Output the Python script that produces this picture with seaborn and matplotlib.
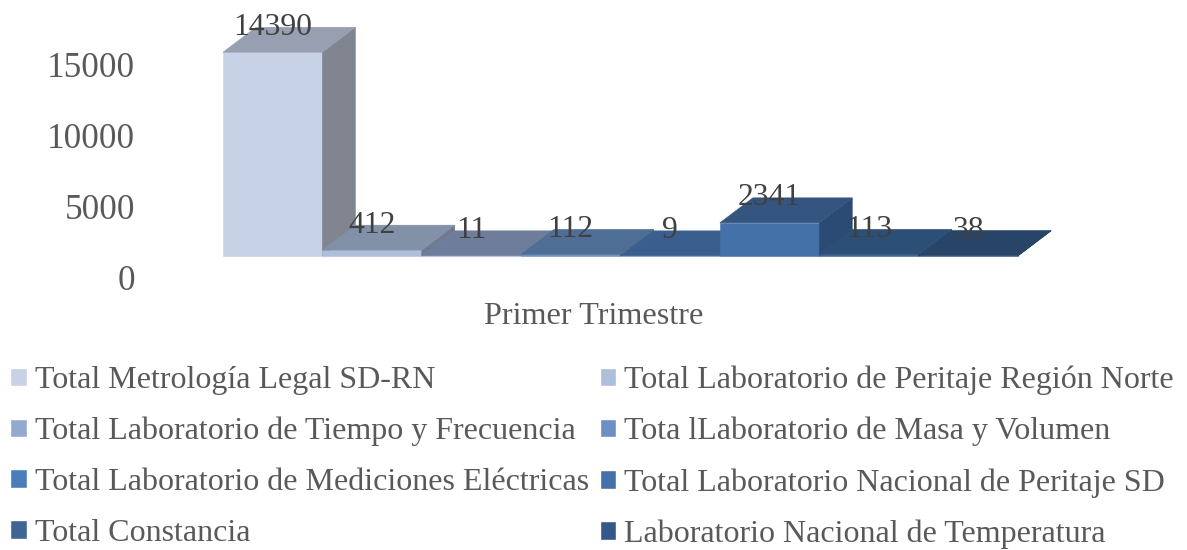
import matplotlib
matplotlib.use("Agg")
import matplotlib.pyplot as plt
from matplotlib.patches import Polygon
import pandas as pd
import seaborn as sns

# Data
series = ["Total Metrología Legal SD-RN", "Total Laboratorio de Peritaje Región Norte",
          "Total Laboratorio de Tiempo y Frecuencia", "Tota lLaboratorio de Masa y Volumen",
          "Total Laboratorio de Mediciones Eléctricas", "Total Laboratorio Nacional de Peritaje SD",
          "Total Constancia", "Laboratorio Nacional de Temperatura"]
values = [14390, 412, 11, 112, 9, 2341, 113, 38]
category = "Primer Trimestre"
y_ticks = [0, 5000, 10000, 15000]
front_colors = ["#C8D2E6", "#AEBFDC", "#94A9D0", "#6C90C4", "#4A7DBA", "#4472A8", "#3F6595", "#35578A"]
top_colors = ["#979FB0", "#8290A8", "#6E7D9B", "#4E6E96", "#3A5F8E", "#34557F", "#2C4F78", "#284568"]
side_colors = ["#80858F", "#6F7A8E", "#5D6A84", "#42607F", "#34527A", "#2C4B74", "#264468", "#223C5C"]

W, H = 1187, 550
px_per_unit = 70.8 / 5000
tick_px_per_unit = 71.3 / 5000
depth_px = (33, 25)
base_y = 256
bars_left, bars_right = 223, 1018

sns.set_style("white")
plt.rcParams['font.family'] = ['Liberation Serif', 'DejaVu Serif']

df = pd.DataFrame({"cat": [category] * len(values), "name": series, "value": values})

fig = plt.figure(figsize=(W / 100, H / 100), dpi=100)
ax_h = 15000 * px_per_unit
ax = fig.add_axes([bars_left / W, (H - base_y) / H, (bars_right - bars_left) / W, ax_h / H])
ax.patch.set_alpha(0)
sns.barplot(data=df, x="cat", y="value", hue="name", hue_order=series, palette=front_colors,
            width=1, gap=0, saturation=1, legend=True, ax=ax, errorbar=None)
ax.set_xlim(-0.5, 0.5)
ax.set_ylim(0, 15000)
handles, labels = ax.get_legend_handles_labels()
ax.get_legend().remove()

dx = depth_px[0] / (bars_right - bars_left)
dy = depth_px[1] / px_per_unit
for i, container in enumerate(ax.containers):
    bar = container[0]
    x0, x1, h = bar.get_x(), bar.get_x() + bar.get_width(), bar.get_height()
    bar.set_zorder(3 + i)
    bar.set_edgecolor(front_colors[i])
    bar.set_linewidth(0.4)
    side = Polygon([(x1, 0), (x1 + dx, dy), (x1 + dx, h + dy), (x1, h)], fc=side_colors[i], ec=side_colors[i],
                   lw=0.4, clip_on=False, zorder=3 + i)
    top = Polygon([(x0, h), (x1, h), (x1 + dx, h + dy), (x0 + dx, h + dy)], fc=top_colors[i], ec=top_colors[i],
                  lw=0.4, clip_on=False, zorder=3 + i)
    ax.add_patch(side)
    ax.add_patch(top)
    bar.set_clip_on(False)
    for t in ax.bar_label(container, padding=7.5, fontsize=22.8, color="#404040"):
        t.set_zorder(20)
        t.set_clip_on(False)
ax.axis("off")

# Axis labels sit lower and to the left of the bars, on the front of the floor
ax2 = fig.add_axes([145 / W, (H - 278) / H, (1043 - 145) / W, 15000 * tick_px_per_unit / H])
ax2.patch.set_alpha(0)
ax2.set_ylim(0, 15000)
ax2.set_xlim(-0.5, 0.5)
ax2.set_yticks(y_ticks)
ax2.set_xticks([0])
ax2.set_xticklabels([category])
ax2.tick_params(axis="y", length=0, pad=7, labelsize=25.4, labelcolor="#595959")
ax2.tick_params(axis="x", length=0, pad=17, labelsize=23.2, labelcolor="#595959")
sns.despine(ax=ax2, left=True, bottom=True)
ax2.grid(False)

# Legend fills by column, the reference reads by row
order = [0, 2, 4, 6, 1, 3, 5, 7]
fig.legend([handles[i] for i in order], [labels[i] for i in order], ncol=2, frameon=False,
           loc="lower left", bbox_to_anchor=(4 / W, -5 / H), fontsize=23, labelcolor="#595959",
           handlelength=0.52, handleheight=0.52, handletextpad=0.24, columnspacing=0.34,
           labelspacing=0.676, borderaxespad=0, borderpad=0.2)

fig.savefig("out.png", dpi=100)
